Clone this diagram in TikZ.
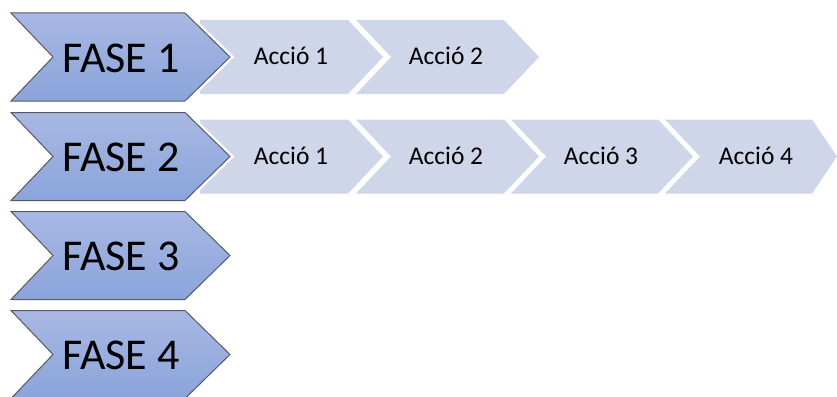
\documentclass[tikz,border=0pt]{standalone}
\usepackage{fontspec}
\setmainfont{Carlito}
\definecolor{faseTop}{HTML}{A9B8E3}
\definecolor{faseBot}{HTML}{8AA4DB}
\definecolor{faseLine}{HTML}{555A66}
\definecolor{accFill}{HTML}{CFD6EA}
\tikzset{
  fasebox/.style={top color=faseTop, bottom color=faseBot, draw=faseLine, line width=1pt, line join=miter},
  fasehalo/.style={draw=white, line width=6pt, line join=miter},
  accbox/.style={fill=accFill, draw=none},
  fasetext/.style={inner sep=0pt, anchor=base, font=\fontsize{44}{50}\selectfont},
  acctext/.style={inner sep=0pt, anchor=base, font=\fontsize{25.5}{30}\selectfont}
}
\begin{document}
\begin{tikzpicture}[x=1pt, y=-1pt]
\useasboundingbox (0,0) rectangle (837,396);
\begin{scope}
\clip (0,0) rectangle (837,396);
% ---- row 1 actions
\def\yc{57}
\fill[accbox] (200,\yc-37) -- (348,\yc-37) -- (383,\yc) -- (348,\yc+37) -- (200,\yc+37) -- cycle;
\fill[accbox] (356,\yc-37) -- (504,\yc-37) -- (539,\yc) -- (504,\yc+37) -- (356,\yc+37) -- (391,\yc) -- cycle;
\node[acctext] (r1a1) at (291,\yc+7.5) {Acció 1};
\node[acctext] (r1a2) at (446,\yc+7.5) {Acció 2};
% ---- row 2 actions
\def\yc{156.5}
\fill[accbox] (200,\yc-37) -- (348,\yc-37) -- (383,\yc) -- (348,\yc+37) -- (200,\yc+37) -- cycle;
\fill[accbox] (356,\yc-37) -- (504,\yc-37) -- (539,\yc) -- (504,\yc+37) -- (356,\yc+37) -- (391,\yc) -- cycle;
\fill[accbox] (511,\yc-37) -- (658,\yc-37) -- (693,\yc) -- (658,\yc+37) -- (511,\yc+37) -- (546,\yc) -- cycle;
\fill[accbox] (665,\yc-37) -- (812,\yc-37) -- (837,\yc) -- (812,\yc+37) -- (665,\yc+37) -- (700,\yc) -- cycle;
\node[acctext] (r2a1) at (291,\yc+7.5) {Acció 1};
\node[acctext] (r2a2) at (446,\yc+7.5) {Acció 2};
\node[acctext] (r2a3) at (601,\yc+7.5) {Acció 3};
\node[acctext] (r2a4) at (756,\yc+7.5) {Acció 4};
% ---- phases
\foreach \k/\c in {1/57,2/156.5,3/255.5,4/354.5}{
  \draw[fasehalo] (11,\c-44) -- (185,\c-44) -- (230,\c) -- (185,\c+44) -- (11,\c+44) -- (53,\c) -- cycle;
  \path[fasebox] (11,\c-44) -- (185,\c-44) -- (230,\c) -- (185,\c+44) -- (11,\c+44) -- (53,\c) -- cycle;
  \node[fasetext] (fase\k) at (121,\c+15) {FASE \k};
}
\end{scope}
\end{tikzpicture}
\end{document}
